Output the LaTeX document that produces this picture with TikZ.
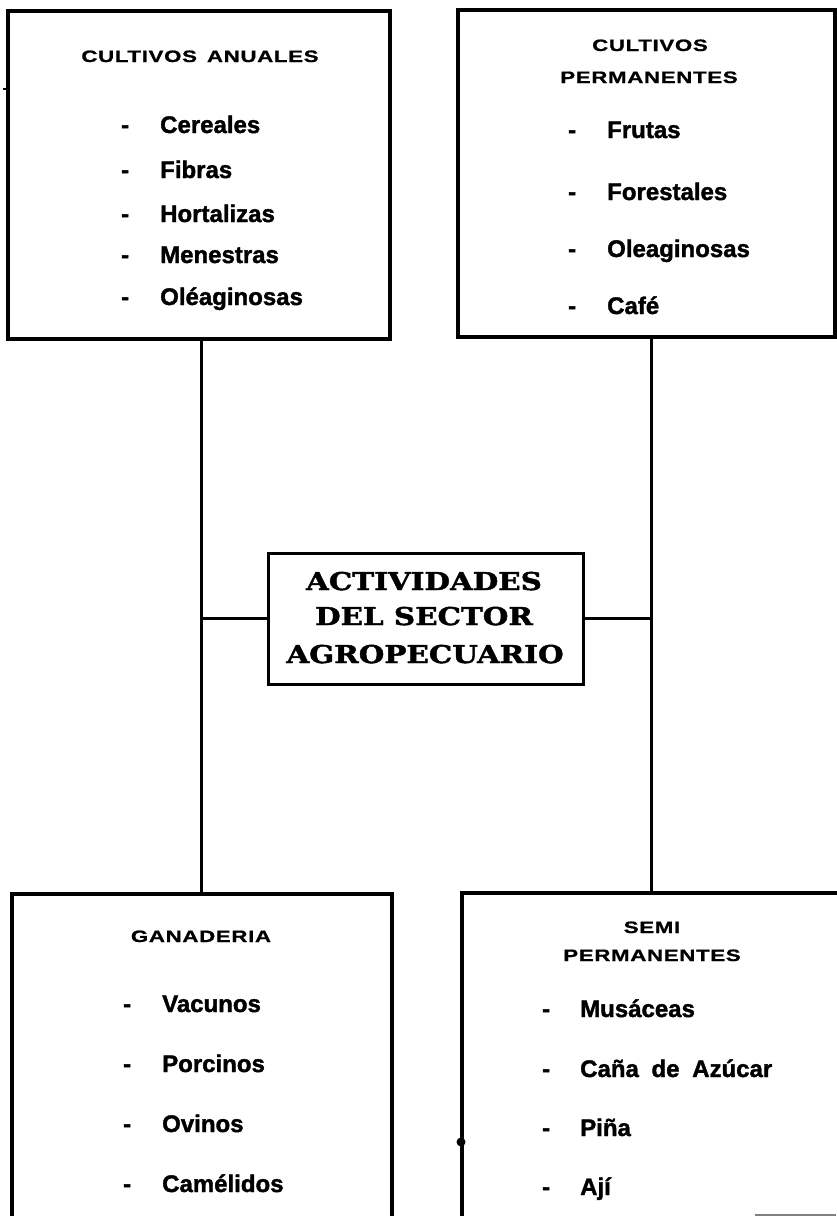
\documentclass[tikz,border=0pt]{standalone}
\usepackage{fontspec}
\setmainfont{Liberation Sans}
\newfontfamily\itemfont{Liberation Sans}[FakeBold=1.6]
\newfontfamily\headfont{Liberation Sans}[FakeStretch=1.35,LetterSpace=4,FakeBold=1.0]
\newfontfamily\titlefont{DejaVu Serif}[FakeStretch=1.2,FakeBold=1.8]

\tikzset{
  boxline/.style={draw, rectangle, line width=3.5pt, inner sep=0pt, outer sep=0pt},
  link/.style={line width=3pt},
  head/.style={font={\headfont\bfseries\fontsize{16.5}{18}\selectfont}, anchor=base, inner sep=0pt},
  item/.style={font={\itemfont\bfseries\fontsize{24}{28}\selectfont}, anchor=base west, inner sep=0pt},
  titleline/.style={font={\titlefont\bfseries\fontsize{24.5}{28}\selectfont}, anchor=base, inner sep=0pt}
}

\begin{document}
\begin{tikzpicture}[x=1pt, y=-1pt]
\useasboundingbox (0,0) rectangle (836,1216);

% the four category boxes (the lower ones run off the page)
\node[boxline, minimum width=382pt, minimum height=328pt] (anual) at (199,175) {};
\node[boxline, minimum width=377pt, minimum height=327pt] (perm) at (646.5,173.5) {};
\node[boxline, minimum width=380pt, minimum height=346pt] (gan) at (202,1067) {};
\node[boxline, minimum width=408pt, minimum height=347pt] (semi) at (666,1066.5) {};

% central box
\node[boxline, line width=3pt, minimum width=315pt, minimum height=131pt] (act) at (425.5,618.5) {};
\node[titleline] (t1) at (424,590) {ACTIVIDADES};
\node[titleline] (t2) at (424,625) {DEL SECTOR};
\node[titleline] (t3) at (425,663) {AGROPECUARIO};

% trunk lines and branches
\coordinate (jl) at (201,617);
\coordinate (jr) at (651,617);
\draw[link] (anual.south -| jl) -- (gan.north -| jl);
\draw[link] (perm.south -| jr) -- (semi.north -| jr);
\draw[link, line width=2.5pt] (act.west) -- (act.west -| jl);
\draw[link, line width=2.5pt] (act.east) -- (act.east -| jr);

% Cultivos anuales
\node[head] (hA) at (200,62) {CULTIVOS\hspace{10pt}ANUALES};
\node[item] (dA1) at (121,133) {-}; \node[item] (iA1) at (160,133) {Cereales};
\node[item] (dA2) at (121,178) {-}; \node[item] (iA2) at (160,178) {Fibras};
\node[item] (dA3) at (121,222) {-}; \node[item] (iA3) at (160,222) {Hortalizas};
\node[item] (dA4) at (121,263) {-}; \node[item] (iA4) at (160,263) {Menestras};
\node[item] (dA5) at (121,305) {-}; \node[item] (iA5) at (160,305) {Oléaginosas};

% Cultivos permanentes
\node[head] (hP1) at (650,51) {CULTIVOS};
\node[head] (hP2) at (649,83) {PERMANENTES};
\node[item] (dP1) at (568,138) {-}; \node[item] (iP1) at (607,138) {Frutas};
\node[item] (dP2) at (568,200) {-}; \node[item] (iP2) at (607,200) {Forestales};
\node[item] (dP3) at (568,257) {-}; \node[item] (iP3) at (607,257) {Oleaginosas};
\node[item] (dP4) at (568,314) {-}; \node[item] (iP4) at (607,314) {Café};

% Ganaderia
\node[head] (hG) at (201,942) {GANADERIA};
\node[item] (dG1) at (123,1012) {-}; \node[item] (iG1) at (162,1012) {Vacunos};
\node[item] (dG2) at (123,1072) {-}; \node[item] (iG2) at (162,1072) {Porcinos};
\node[item] (dG3) at (123,1132) {-}; \node[item] (iG3) at (162,1132) {Ovinos};
\node[item] (dG4) at (123,1192) {-}; \node[item] (iG4) at (162,1192) {Camélidos};

% Semi permanentes
\node[head] (hS1) at (652,933) {SEMI};
\node[head] (hS2) at (652,961) {PERMANENTES};
\node[item] (dS1) at (542,1017) {-}; \node[item] (iS1) at (580,1017) {Musáceas};
\node[item] (dS2) at (542,1077) {-}; \node[item] (iS2) at (580,1077) {Caña\hspace{6pt} de\hspace{6pt} Azúcar};
\node[item] (dS3) at (542,1136) {-}; \node[item] (iS3) at (580,1136) {Piña};
\node[item] (dS4) at (542,1195) {-}; \node[item] (iS4) at (580,1195) {Ají};

% small marks on the borders
\coordinate (tick) at (3,89);
\draw[line width=1.2pt] (tick) -- (anual.west |- tick);
\coordinate (blob) at (461,1142);
\fill (blob) circle (4.5pt);
\coordinate (edgeA) at (755,1215);
\coordinate (edgeB) at (836,1215);
\draw[line width=1.5pt, gray] (edgeA) -- (edgeB);
\end{tikzpicture}
\end{document}
